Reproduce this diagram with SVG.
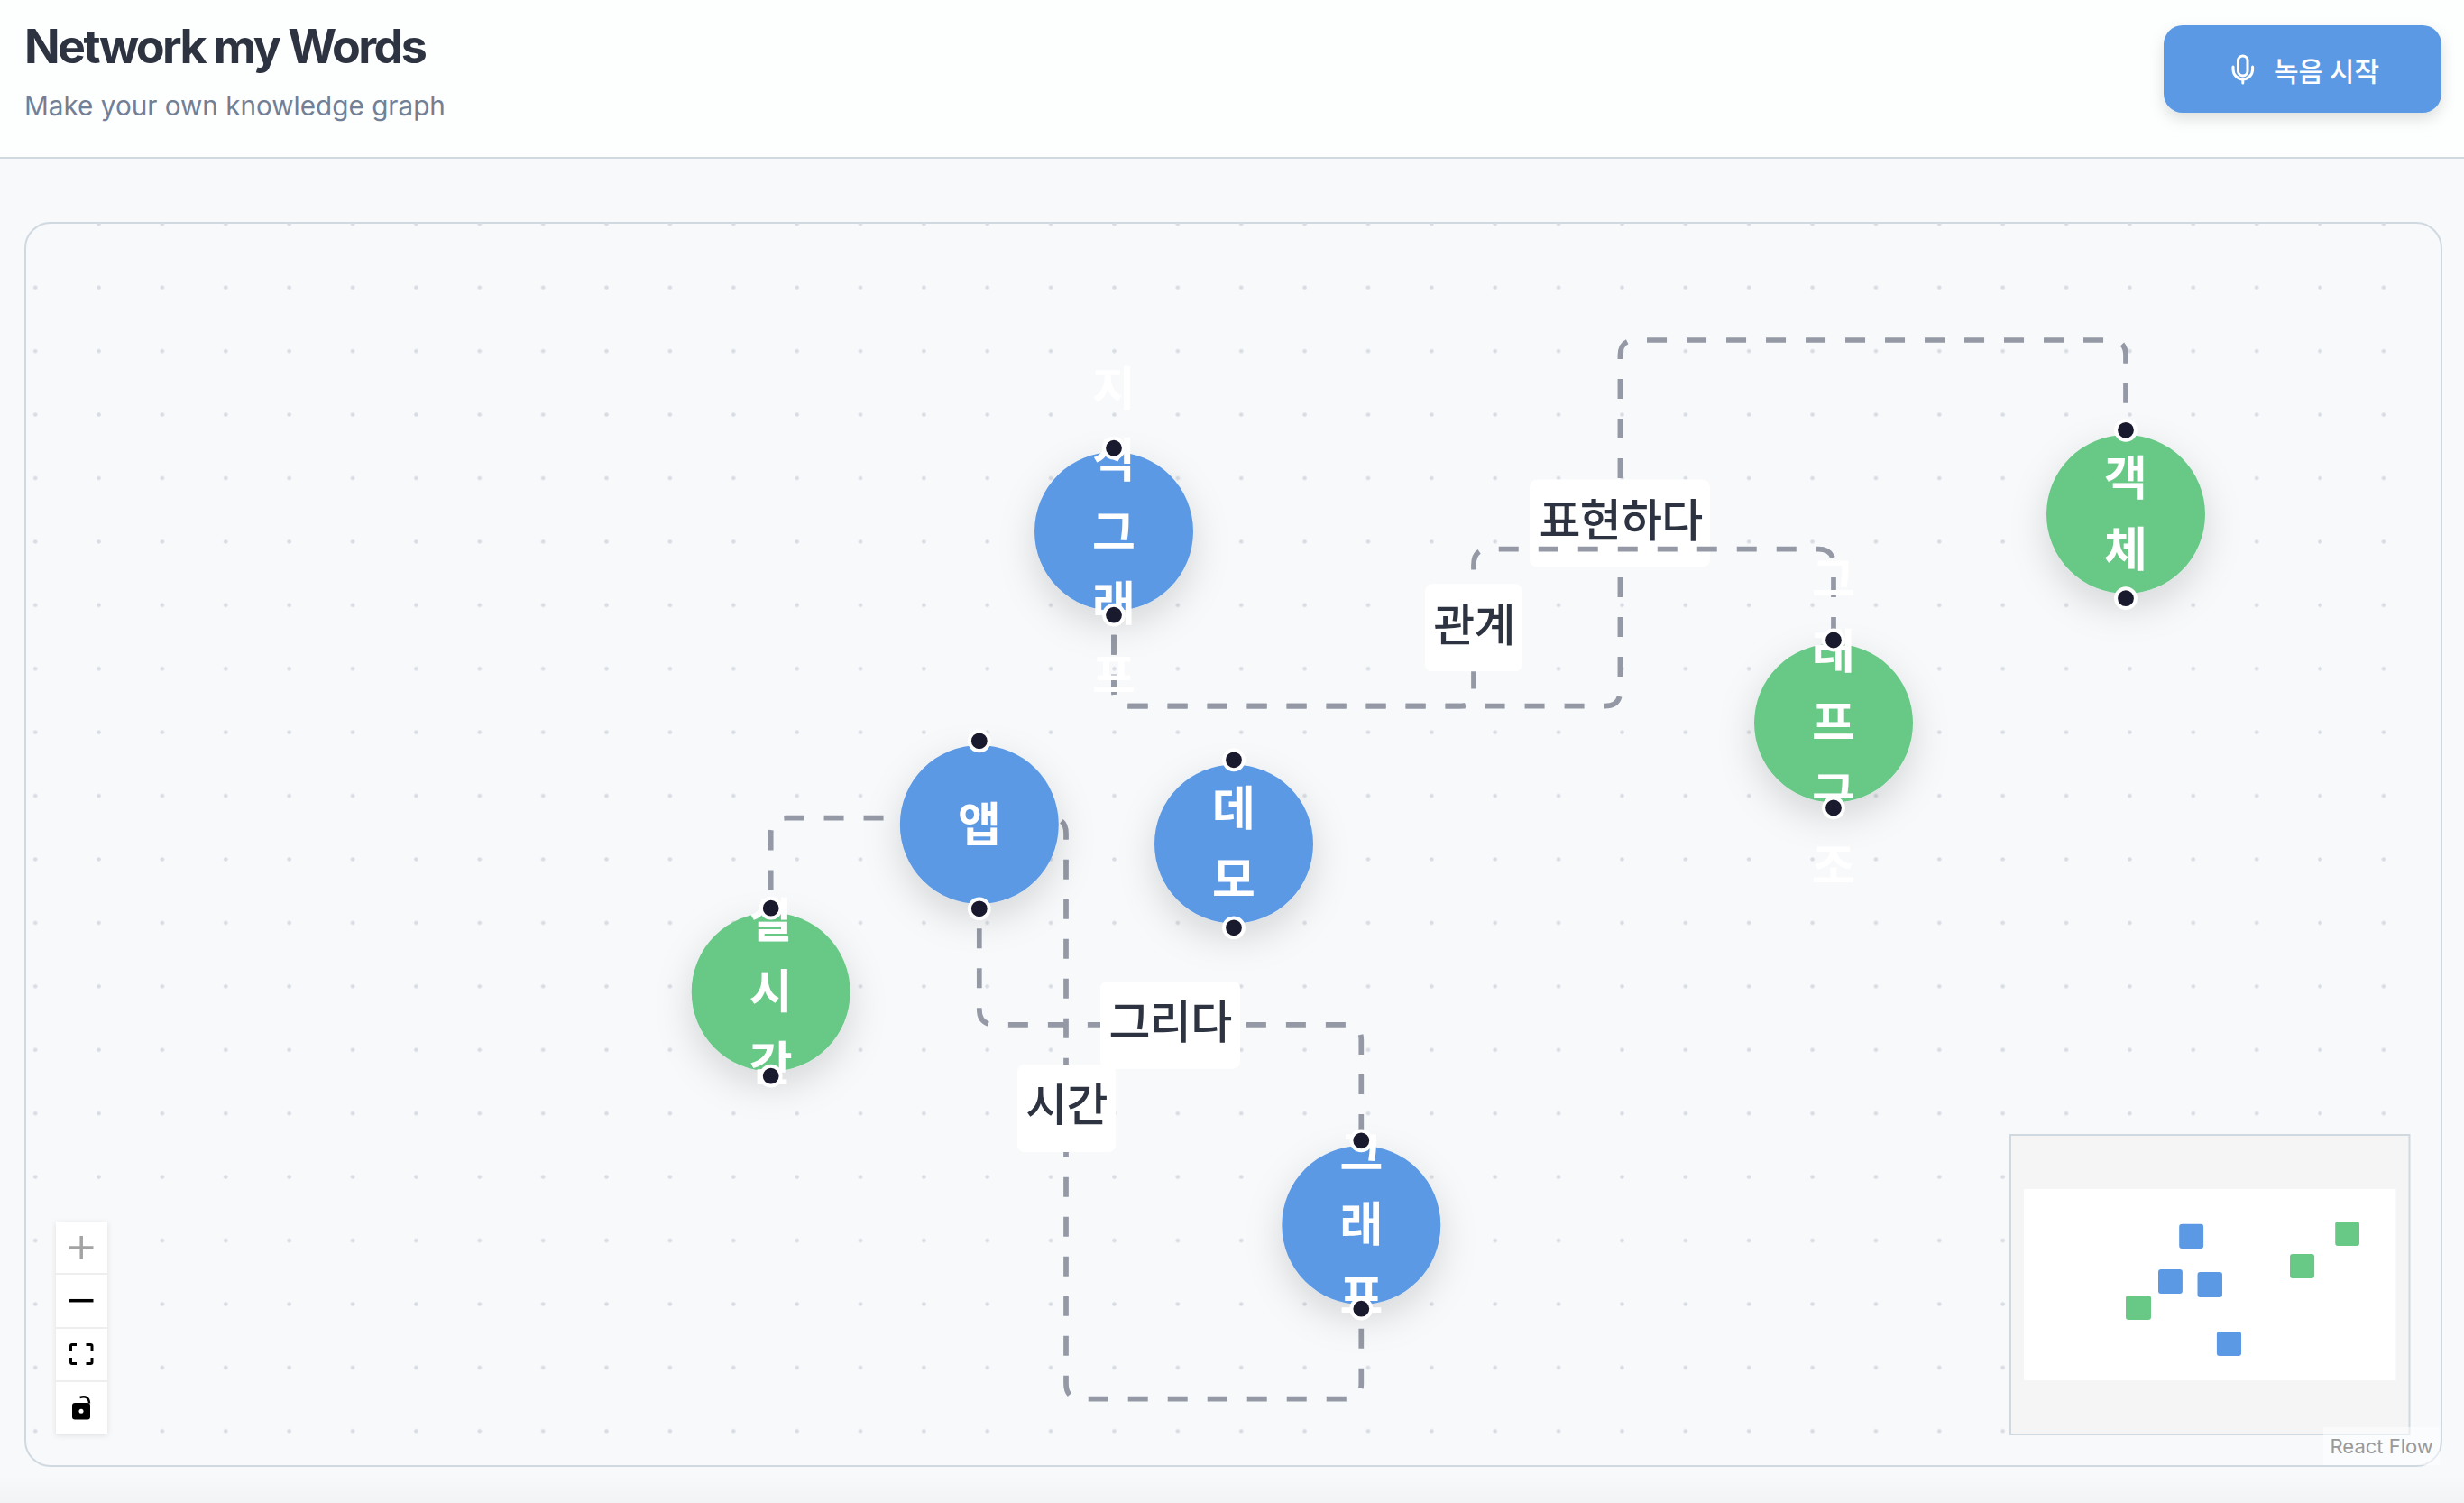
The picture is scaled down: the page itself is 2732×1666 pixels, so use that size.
<svg xmlns="http://www.w3.org/2000/svg" width="2732" height="1666" viewBox="0 0 2732 1666">
<style>
text{font-family:"Noto Sans CJK KR","Noto Sans",sans-serif}
.ui{font-family:Inter,"Liberation Sans",sans-serif}
.edge{fill:none;stroke:#9499a5;stroke-width:5.7;stroke-dasharray:22 22;stroke-dashoffset:22}
.lb{fill:#fff}
.lt{font-size:50px;font-weight:500;fill:#2d3340;text-anchor:middle;letter-spacing:-.7px}
.nt{font-size:52px;font-weight:600;fill:#fff;text-anchor:middle;transform:translateY(1.5px)}
.blue{fill:#5b99e5}
.green{fill:#68c987}
.h{fill:#1a1a2e;stroke:#fff;stroke-width:4}
.cb{fill:#fff}
.line{stroke:#d1d9e0;stroke-width:2}
</style>
<defs>
<pattern id="dots" patternUnits="userSpaceOnUse" x="4.02" y="213.09" width="70.37" height="70.42">
<circle cx="35.18" cy="35.21" r="2.3" fill="#d9dce2"/>
</pattern>
<clipPath id="pc"><rect x="28" y="247" width="2679" height="1378" rx="28"/></clipPath>
<filter id="ns" x="-60%" y="-60%" width="220%" height="240%"><feDropShadow dx="0" dy="15" stdDeviation="20" flood-color="#000" flood-opacity=".14"/></filter>
<filter id="bs" x="-10%" y="-30%" width="120%" height="180%"><feDropShadow dx="0" dy="7" stdDeviation="8" flood-color="#000" flood-opacity=".12"/></filter>
<filter id="cs" x="-30%" y="-10%" width="160%" height="120%"><feDropShadow dx="0" dy="2" stdDeviation="3" flood-color="#000" flood-opacity=".1"/></filter>
<linearGradient id="pg" x1="0" y1="0" x2="0" y2="1"><stop offset="0" stop-color="#f7f9fb"/><stop offset="1" stop-color="#f2f3f5"/></linearGradient>
</defs>

<rect width="2732" height="1666" fill="#f7f9fb"/>
<rect y="1635" width="2732" height="31" fill="url(#pg)"/>

<g id="header">
<rect width="2732" height="175" fill="#fdfefe"/>
<line class="line" x1="0" y1="175" x2="2732" y2="175"/>
<text class="ui" x="27" y="70" font-size="52" font-weight="700" fill="#2d3340" letter-spacing="-2.6">Network my Words</text>
<text class="ui" x="27" y="127.5" font-size="29.7" fill="#718096">Make your own knowledge graph</text>
</g>
<g id="record-button">
<rect class="blue" x="2399" y="28" width="308" height="97" rx="21" filter="url(#bs)"/>
<g fill="none" stroke="#fff" stroke-width="3" stroke-linecap="round">
<rect x="2481.5" y="62" width="10.500" height="22" rx="5.250"/>
<path d="M2476 74v3a10.800 10.800 0 0 0 21.600 0v-3M2486.800 88v4"/>
</g>
<text x="2579.500" y="90" font-size="30" font-weight="500" fill="#fff" text-anchor="middle">녹음 시작</text>
</g>

<g id="canvas">
<rect x="28" y="247" width="2679" height="1378" rx="28" fill="#f7f9fb" stroke="#d1d9e0" stroke-width="2"/>
<rect x="28" y="247" width="2679" height="1378" fill="url(#dots)" clip-path="url(#pc)"/>
</g>

<g id="connectors">
<path class="edge" d="M1235 681.700L1235 765.700Q1235 782.700 1252 782.700L1779.400 782.700Q1796.400 782.700 1796.400 765.700L1796.400 394Q1796.400 377 1813.400 377L2340 377Q2357 377 2357 394L2357 476.800"/>
<g id="label-pyohyeon"><rect class="lb" x="1696" y="531.500" width="200" height="97" rx="8"/><text class="lt" x="1797" y="595">표현하다</text></g>
<path class="edge" d="M1235 681.700L1235 765.700Q1235 782.700 1252 782.700L1617 782.700Q1634 782.700 1634 765.700L1634 625.700Q1634 608.700 1651 608.700L2016 608.700Q2033 608.700 2033 625.700L2033 709.500"/>
<g id="label-gwangye"><rect class="lb" x="1580" y="647.300" width="108" height="97" rx="8"/><text class="lt" x="1634.500" y="711">관계</text></g>
<path class="edge" d="M1509.300 1450.700L1509.300 1533.700Q1509.300 1550.700 1492.300 1550.700L1199 1550.700Q1182 1550.700 1182 1533.700L1182 923.700Q1182 906.700 1165 906.700L871.700 906.700Q854.700 906.700 854.700 923.700L854.700 1006.700"/>
<g id="label-sigan"><rect class="lb" x="1128" y="1180" width="109" height="97" rx="8"/><text class="lt" x="1182.500" y="1243">시간</text></g>
<path class="edge" d="M1085.800 1007.300L1085.800 1118.800Q1085.800 1135.800 1102.800 1135.800L1492.300 1135.800Q1509.300 1135.800 1509.300 1152.800L1509.300 1264.300"/>
<g id="label-geurida"><rect class="lb" x="1220" y="1087.700" width="155" height="97" rx="8"/><text class="lt" x="1297.500" y="1151">그리다</text></g>
</g>

<g id="node-jisik"><circle class="blue" cx="1235" cy="589" r="88" filter="url(#ns)"/>
<text class="nt"><tspan x="1235" y="448">지</tspan><tspan x="1235" y="527.500">식</tspan><tspan x="1235" y="607">그</tspan><tspan x="1235" y="686.500">래</tspan><tspan x="1235" y="766">프</tspan></text>
<circle class="h" cx="1235" cy="496.700" r="10.900"/><circle class="h" cx="1235" cy="681.700" r="10.900"/></g>

<g id="node-gaekche"><circle class="green" cx="2357" cy="570" r="88" filter="url(#ns)"/>
<text class="nt"><tspan x="2357" y="547">객</tspan><tspan x="2357" y="626.500">체</tspan></text>
<circle class="h" cx="2357" cy="476.800" r="10.900"/><circle class="h" cx="2357" cy="663.200" r="10.900"/></g>

<g id="node-graph-structure"><circle class="green" cx="2033" cy="801.500" r="88" filter="url(#ns)"/>
<text class="nt"><tspan x="2033" y="659.500">그</tspan><tspan x="2033" y="739">래</tspan><tspan x="2033" y="818.500">프</tspan><tspan x="2033" y="898">구</tspan><tspan x="2033" y="977.500">조</tspan></text>
<circle class="h" cx="2033" cy="709.500" r="10.900"/><circle class="h" cx="2033" cy="895.500" r="10.900"/></g>

<g id="node-app"><circle class="blue" cx="1085.800" cy="914" r="88" filter="url(#ns)"/>
<text class="nt"><tspan x="1085.800" y="931">앱</tspan></text>
<circle class="h" cx="1085.800" cy="821.300" r="10.900"/><circle class="h" cx="1085.800" cy="1007.300" r="10.900"/></g>

<g id="node-demo"><circle class="blue" cx="1368" cy="935.500" r="88" filter="url(#ns)"/>
<text class="nt"><tspan x="1368" y="913">데</tspan><tspan x="1368" y="992.500">모</tspan></text>
<circle class="h" cx="1368" cy="842.300" r="10.900"/><circle class="h" cx="1368" cy="1028.300" r="10.900"/></g>

<g id="node-realtime"><circle class="green" cx="854.700" cy="1099.500" r="88" filter="url(#ns)"/>
<text class="nt"><tspan x="854.700" y="1037">실</tspan><tspan x="854.700" y="1116.500">시</tspan><tspan x="854.700" y="1196">간</tspan></text>
<circle class="h" cx="854.700" cy="1006.700" r="10.900"/><circle class="h" cx="854.700" cy="1192.700" r="10.900"/></g>

<g id="node-graph"><circle class="blue" cx="1509.300" cy="1358" r="88" filter="url(#ns)"/>
<text class="nt"><tspan x="1509.300" y="1295">그</tspan><tspan x="1509.300" y="1374.500">래</tspan><tspan x="1509.300" y="1454">프</tspan></text>
<circle class="h" cx="1509.300" cy="1264.300" r="10.900"/><circle class="h" cx="1509.300" cy="1450.700" r="10.900"/></g>

<g id="controls">
<rect x="62" y="1354" width="57" height="235" fill="#eee" filter="url(#cs)"/>
<rect class="cb" x="62" y="1354" width="57" height="57"/>
<rect class="cb" x="62" y="1413" width="57" height="58"/>
<rect class="cb" x="62" y="1473" width="57" height="57"/>
<rect class="cb" x="62" y="1532" width="57" height="57"/>
<path d="M77 1383h26.500M90.200 1370v26" stroke="#a3a3a3" stroke-width="3.500" fill="none"/>
<path d="M77 1441.700h26.500" stroke="#000" stroke-width="3.500" fill="none"/>
<path d="M85 1490.500h-5q-1.500 0-1.500 1.500v5M95.500 1490.500h5q1.500 0 1.500 1.500v5M85 1511.500h-5q-1.500 0-1.500-1.500v-5M95.500 1511.500h5q1.500 0 1.500-1.500v-5" stroke="#000" stroke-width="3" fill="none"/>
<path d="M88.500 1549q10-3 10.500 6.500" stroke="#000" stroke-width="2.400" fill="none"/>
<rect x="80" y="1555" width="20" height="18.500" rx="3" fill="#000"/>
<circle cx="90" cy="1564.300" r="2.500" fill="#fff"/>
</g>

<g id="minimap">
<rect x="2229" y="1258" width="442.500" height="332" fill="#f5f5f5" stroke="#d1d9e0" stroke-width="2"/>
<rect x="2244" y="1318" width="412.400" height="212" fill="#fff"/>
<rect class="blue" x="2416.200" y="1356.700" width="26.900" height="27.300" rx="3"/>
<rect class="green" x="2589.200" y="1354" width="26.800" height="27" rx="3"/>
<rect class="green" x="2539" y="1390" width="27.100" height="27" rx="3"/>
<rect class="blue" x="2393" y="1407" width="26.900" height="27" rx="3"/>
<rect class="blue" x="2436.500" y="1410" width="27.500" height="28" rx="3"/>
<rect class="green" x="2357" y="1436" width="28" height="27" rx="3"/>
<rect class="blue" x="2457.900" y="1476" width="27.100" height="27" rx="3"/>
</g>

<g id="attribution">
<rect x="2576" y="1582" width="129" height="42" fill="#fff" fill-opacity=".5"/>
<text class="ui" x="2583.500" y="1610.500" font-size="22" fill="#999">React Flow</text>
</g>
</svg>
